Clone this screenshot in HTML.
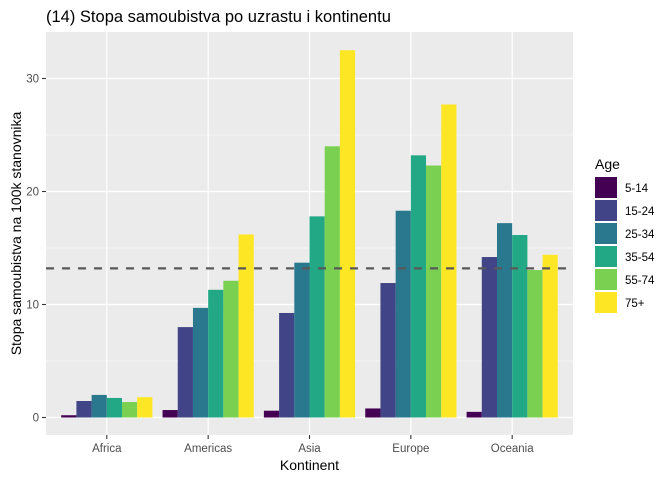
<!DOCTYPE html>
<html><head><meta charset="utf-8"><style>
body{margin:0;background:#fff;}
svg text{font-family:"Liberation Sans",Arial,sans-serif;}
</style></head><body>
<svg id="chart" width="672" height="480" xmlns="http://www.w3.org/2000/svg">
<text x="46" y="22" font-size="16.5" fill="#000">(14) Stopa samoubistva po uzrastu i kontinentu</text>
<rect x="46" y="32" width="527" height="403" fill="#ebebeb"/>
<g id="grid"></g><g id="bars"></g><g id="axes"></g>
<text x="309.5" y="470" font-size="14" text-anchor="middle" fill="#000">Kontinent</text>
<text transform="translate(21,233.5) rotate(-90)" font-size="14" text-anchor="middle" fill="#000">Stopa samoubistva na 100k stanovnika</text>
<g id="legend">
<text x="595" y="169" font-size="14" fill="#000">Age</text>
</g>
</svg>
<script>
const categories=["Africa","Americas","Asia","Europe","Oceania"];
const ages=["5-14","15-24","25-34","35-54","55-74","75+"];
const colors=["#440154","#414487","#2a788e","#22a884","#7ad151","#fde725"];
const s514=[0.2,0.66,0.6,0.8,0.5];
const s1524=[1.46,8.0,9.25,11.9,14.2];
const s2534=[2.0,9.7,13.7,18.3,17.2];
const s3554=[1.73,11.3,17.8,23.2,16.15];
const s5574=[1.37,12.1,24.0,22.3,13.05];
const s75=[1.8,16.2,32.5,27.7,14.4];
const series=[s514,s1524,s2534,s3554,s5574,s75];
const meanLine=13.2;
const yTicks=[0,10,20,30];
const yMinor=[5,15,25];
const NS="http://www.w3.org/2000/svg";
const px0=46,pw=527,y0=417.5,ppu=11.3;
const xs=i=>px0+(i+0.6)*pw/5.2;
const ys=v=>y0-v*ppu;
function mk(t,a,p){const e=document.createElementNS(NS,t);for(const k in a)e.setAttribute(k,a[k]);p.appendChild(e);return e;}
const grid=document.getElementById('grid'),bars=document.getElementById('bars'),axes=document.getElementById('axes'),leg=document.getElementById('legend');
yMinor.forEach(v=>{const l=mk('line',{x1:46,x2:573,y1:ys(v),y2:ys(v),stroke:'#fff','stroke-width':0.6},grid);

});
yTicks.forEach(v=>{const l=mk('line',{x1:46,x2:573,y1:ys(v),y2:ys(v),stroke:'#fff','stroke-width':1.2},grid);


const t=mk('line',{x1:42,x2:46,y1:ys(v),y2:ys(v),stroke:'#333','stroke-width':1.1},axes);


const tx=mk('text',{x:39,y:ys(v)+4,'font-size':11.5,'text-anchor':'end',fill:'#4d4d4d'},axes);tx.textContent=v;

});
categories.forEach((c,i)=>{const x=xs(i);
const l=mk('line',{x1:x,x2:x,y1:32,y2:435,stroke:'#fff','stroke-width':1.2},grid);


const t=mk('line',{x1:x,x2:x,y1:435,y2:439,stroke:'#333','stroke-width':1.1},axes);


const tx=mk('text',{x:x,y:452,'font-size':11.5,'text-anchor':'middle',fill:'#4d4d4d'},axes);tx.textContent=c;


const gw=0.9*pw/5.2,bw=gw/6;
series.forEach((s,j)=>{const v=s[i];const r=mk('rect',{x:x-gw/2+j*bw,y:ys(v),width:bw,height:y0-ys(v),fill:colors[j]},bars);

});});
const d=mk('line',{x1:46,x2:573,y1:ys(meanLine),y2:ys(meanLine),stroke:'#595959','stroke-width':2.2,'stroke-dasharray':'8,8'},bars);


ages.forEach((a,j)=>{const y=177+j*23;
const r=mk('rect',{x:595,y:y,width:22,height:21,fill:colors[j]},leg);


const t=mk('text',{x:625,y:y+15,'font-size':11.5,fill:'#000'},leg);t.textContent=a;

});
</script>
</body></html>
